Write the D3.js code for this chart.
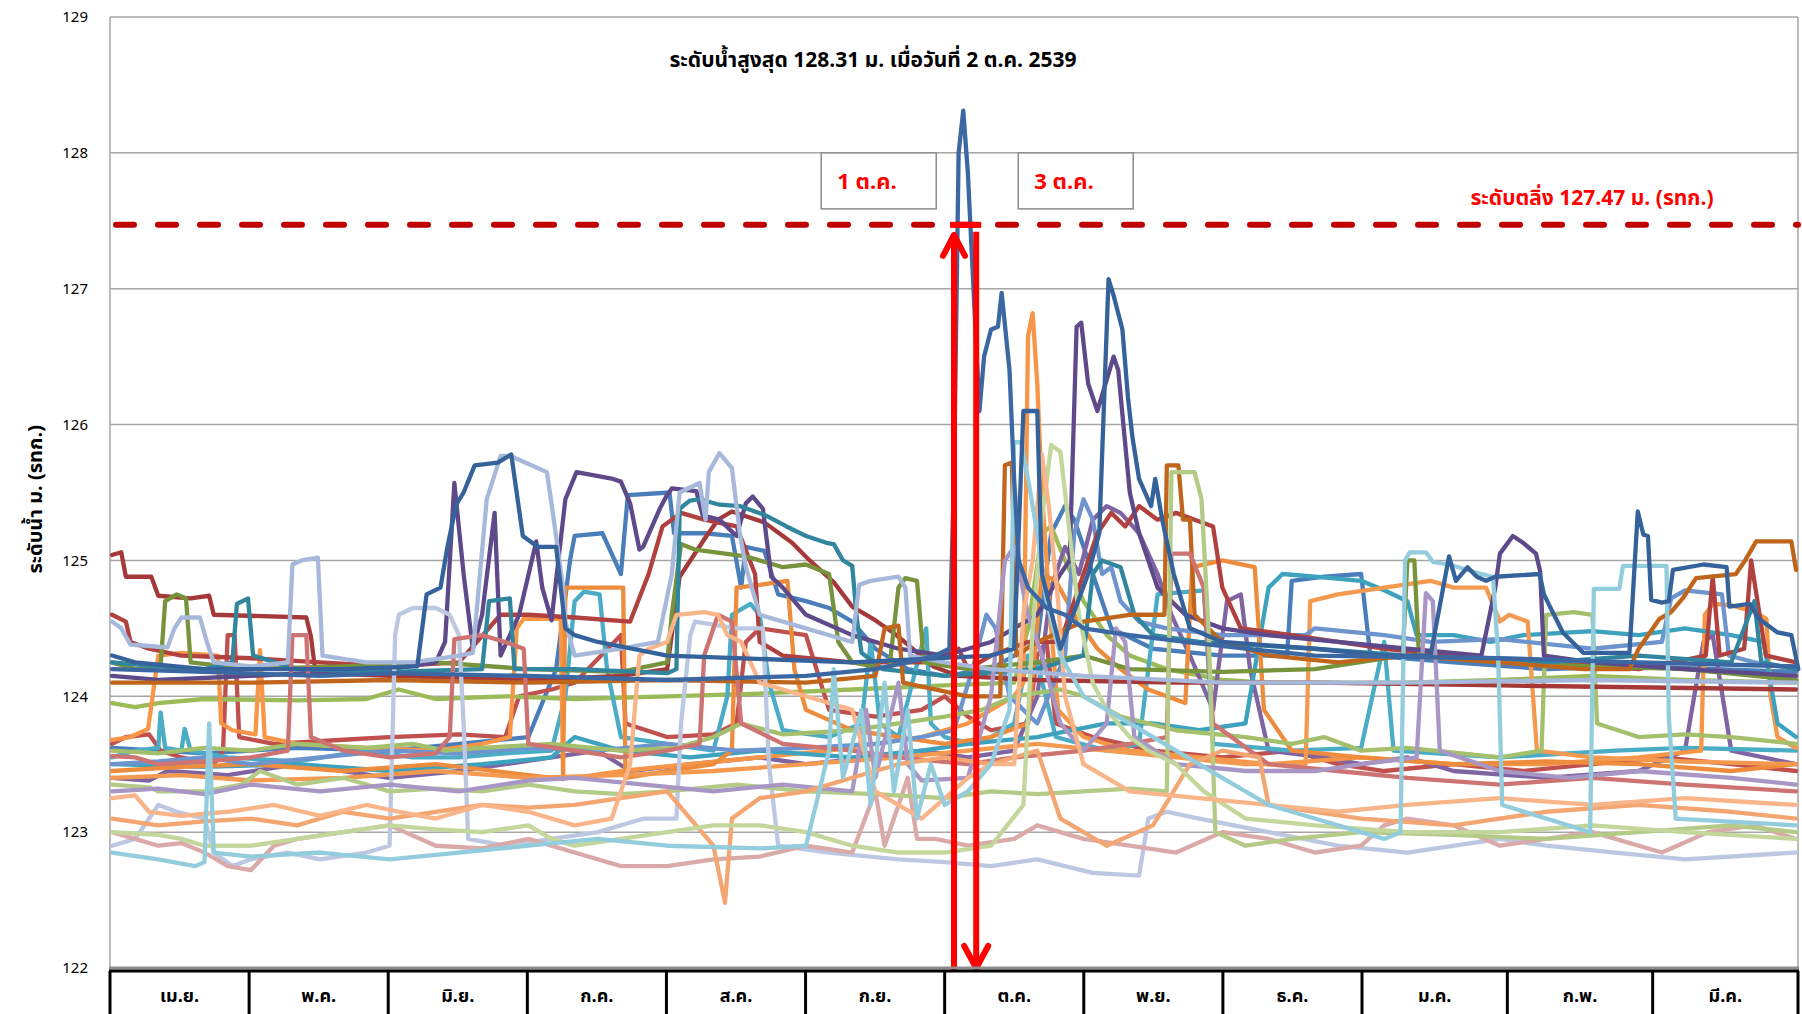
<!DOCTYPE html>
<html>
<head>
<meta charset="utf-8">
<script src="https://cdn.jsdelivr.net/npm/d3@7"></script>
<style>
  body { margin: 0; background: #fff; }
  svg { display: block; }
  text { font-family: Tahoma, "Noto Sans Thai", Loma, Garuda, "DejaVu Sans", sans-serif; }
</style>
</head>
<body>
<svg id="chart" width="1802" height="1014"></svg>
<script>
/* y axis ticks and month cells */
const yTicks = [122, 123, 124, 125, 126, 127, 128, 129];
const months = ['เม.ย.', 'พ.ค.', 'มิ.ย.', 'ก.ค.', 'ส.ค.', 'ก.ย.', 'ต.ค.', 'พ.ย.', 'ธ.ค.', 'ม.ค.', 'ก.พ.', 'มี.ค.'];
const bankLevel = 127.47;
const peakDay = 184; // 2 ต.ค.
const arrowUpDay = 182;
const arrowDownDay = 186.8;

/* one array per year: [day since 1 เม.ย., level m. (รทก.)] */
const yr2539 = [[0,124.2],[20,124.18],[45,124.15],[60,124.17],[90,124.15],[120,124.12],[150,124.15],[165,124.2],[172,124.25],[178,124.3],[181,124.35],[182,125.6],[183,128.0],[184,128.31],[185,127.85],[187.5,126.1],[188.5,126.5],[190,126.7],[191.5,126.72],[192.3,126.97],[194,126.4],[195,125.6],[196,125.0],[198,124.8],[202,124.65],[206,124.6],[210,124.5],[220,124.45],[232,124.4],[245,124.35],[260,124.3],[300,124.28],[330,124.25],[364,124.22]];
const darkBlue2 = [[0,124.3],[5,124.25],[20,124.2],[50,124.2],[66,124.22],[68,124.75],[71,124.8],[72.5,125.1],[74.4,125.41],[76,125.5],[78.4,125.7],[83.4,125.72],[86.3,125.78],[88.8,125.18],[92,125.1],[96,125.1],[98,124.5],[100,124.45],[105,124.4],[120,124.3],[160,124.25],[190,124.3],[195,124.35],[197,126.1],[200,126.1],[201,124.9],[205,124.35],[211,124.9],[213.4,125.2],[215.4,127.07],[216.5,126.95],[218.4,126.7],[219.6,126.2],[220.6,125.9],[222,125.6],[224.6,125.4],[225.5,125.6],[227,125.3],[229.5,124.9],[233,124.5],[240,124.4],[260,124.35],[275,124.3],[285,124.3],[289,125.03],[290.5,124.85],[293,124.95],[295,124.88],[297,124.85],[299,124.88],[308.6,124.9],[309.5,124.75],[313.6,124.47],[318,124.32],[328,124.32],[329.8,125.36],[331,125.19],[332,125.18],[332.7,124.71],[335,124.69],[336.5,124.7],[337.4,124.93],[344,124.97],[349,124.95],[349.6,124.66],[354,124.68],[356,124.57],[360,124.47],[363,124.45],[364.5,124.2]];
const darkRed1 = [[0,125.04],[2,125.06],[3,124.88],[8.5,124.88],[10,124.74],[17,124.72],[21,124.74],[22,124.6],[42,124.58],[43,124.44],[44,124.17],[60,124.15],[90,124.12],[110,124.15],[120,124.2],[122.7,124.88],[128.5,125.18],[131,125.3],[134,125.36],[141,125.28],[147,125.13],[150.8,125.0],[156,124.84],[160,124.66],[164.5,124.57],[168.8,124.47],[172.4,124.37],[177.5,124.22],[183,124.15],[200,124.12],[230,124.1],[260,124.1],[300,124.08],[364,124.05]];
const darkRed2 = [[0,124.6],[3,124.55],[4,124.4],[8,124.35],[15,124.3],[30,124.28],[45,124.25],[60,124.22],[75,124.25],[84,124.6],[90,124.6],[100,124.58],[112,124.55],[116,124.9],[119,125.25],[123,125.35],[128,125.3],[135,125.25],[139,124.9],[140,124.4],[145,124.3],[160,124.25],[175,124.25],[180,124.3],[183,124.35],[185,124.2],[190,124.3],[198,124.4],[205,124.4],[213,125.2],[216,125.35],[219,125.25],[222,125.4],[226,125.3],[230,125.35],[234,125.3],[238,125.25],[240,124.8],[244,124.5],[255,124.45],[265,124.4],[275,124.35],[290,124.3],[310,124.25],[330,124.2],[344.5,124.3],[346,124.88],[347.5,124.3],[352.8,124.35],[354.3,125.0],[357.5,124.3],[364,124.25]];
const darkGreen = [[0,124.25],[5,124.2],[10.5,124.22],[11.5,124.7],[14,124.75],[16,124.72],[17,124.25],[30,124.2],[50,124.22],[70,124.25],[90,124.2],[110,124.18],[120,124.25],[121,124.6],[123,125.12],[126,125.08],[137,125.03],[145,124.95],[150,124.97],[155,124.9],[157,124.4],[160,124.25],[168,124.2],[170,124.8],[171.5,124.87],[174,124.85],[175.5,124.25],[185,124.2],[200,124.25],[210,124.3],[220,124.2],[240,124.18],[260,124.2],[279,124.3],[280,125.0],[281.5,125.0],[282.5,124.3],[300,124.25],[320,124.22],[340,124.2],[364,124.12]];
const darkPurple = [[0,124.15],[10,124.12],[30,124.15],[60,124.2],[70,124.25],[72,124.4],[74,125.57],[76,124.9],[78,124.35],[80,124.6],[82.7,125.35],[84,124.3],[88,124.6],[91.7,125.14],[93,124.8],[95,124.56],[98,125.45],[100.4,125.65],[108.3,125.6],[110,125.58],[112,125.42],[114,125.08],[114.8,125.1],[118.4,125.38],[119.8,125.47],[121,125.53],[126.3,125.51],[127.7,125.33],[131.3,125.3],[135,125.18],[137,125.42],[138.5,125.47],[140.7,125.38],[142.5,124.88],[145,124.8],[150,124.6],[160,124.45],[170,124.35],[180,124.3],[190,124.4],[200,124.6],[205,124.9],[207,125.0],[208.5,126.72],[209.5,126.75],[211,126.3],[213,126.1],[216.5,126.5],[217.5,126.4],[220,125.5],[222,125.2],[226,124.8],[232,124.6],[240,124.5],[250,124.45],[265,124.4],[280,124.35],[296,124.3],[299,124.8],[300,125.05],[302.8,125.18],[305,125.13],[307.8,125.05],[308.7,124.92],[309.5,124.3],[320,124.25],[340,124.2],[364,124.15]];
const darkTeal = [[0,124.25],[10,124.22],[20,124.2],[26,124.25],[27,124.68],[29.4,124.72],[30.5,124.3],[40,124.2],[60,124.18],[80,124.2],[81.5,124.7],[86,124.72],[87,124.2],[100,124.2],[120,124.17],[122,124.2],[122.7,125.38],[124.9,125.44],[127,125.45],[131.3,125.41],[135.7,125.4],[141.4,125.33],[145.8,125.25],[150,125.18],[154.4,125.13],[156,125.12],[158,125.0],[160,124.96],[161,124.57],[162,124.32],[166.6,124.2],[180,124.15],[200,124.2],[210,124.3],[212,124.9],[214,125.0],[218,124.95],[221,124.6],[225,124.45],[235,124.4],[260,124.35],[280,124.3],[310,124.25],[330,124.3],[350,124.25],[355,124.7],[356.5,124.25],[364,124.2]];
const darkOrange = [[0,124.1],[30,124.1],[60,124.12],[90,124.1],[120,124.12],[150,124.1],[165,124.15],[167,124.5],[170,124.52],[171,124.1],[185,124.0],[192,124.0],[193,125.7],[194.5,125.72],[195.5,124.3],[200,124.4],[210,124.55],[220,124.6],[227.5,124.6],[228,125.7],[230.5,125.7],[231.5,125.3],[233,125.3],[234,124.6],[240,124.4],[250,124.3],[265,124.25],[280,124.3],[300,124.25],[318,124.2],[328,124.2],[330,124.35],[334.5,124.57],[337,124.62],[339.5,124.72],[342.4,124.87],[351,124.9],[353,125.0],[355.4,125.14],[363,125.14],[364,124.93]];
const blue = [[0,123.62],[10,123.6],[20,123.58],[40,123.62],[60,123.6],[75,123.65],[90,123.7],[96,124.2],[99,125.0],[100,125.18],[106,125.2],[108,125.05],[110,124.9],[111.5,125.48],[120.5,125.5],[121.5,125.2],[128,125.2],[134,125.18],[136,124.8],[137,125.1],[141,125.07],[144,124.75],[150,124.7],[155,124.65],[160,124.55],[165,124.35],[172,124.2],[180,124.15],[190,124.2],[200,124.4],[203,125.2],[206,125.4],[208,125.3],[212,124.9],[216,124.5],[225,124.35],[240,124.3],[254,124.3],[255,124.85],[262,124.88],[270,124.9],[272,124.3],[290,124.25],[310,124.2],[330,124.22],[364,124.18]];
const red = [[0,123.65],[3,123.7],[8,123.72],[10.5,123.6],[15,123.55],[22,123.5],[24,123.6],[25,124.45],[26.5,124.45],[27.5,123.7],[35,123.65],[50,123.68],[60,123.7],[75,123.72],[85,123.7],[88,124.0],[95,124.05],[100,124.1],[110,124.45],[111,123.8],[120,123.7],[130,123.72],[135,123.8],[137,124.4],[140,124.5],[150,124.45],[155,123.9],[165,123.85],[175,123.9],[180,124.0],[185,123.85],[190,123.75],[198,123.8],[200,124.3],[202,124.4],[204,123.8],[212,123.7],[225,123.6],[240,123.55],[255,123.6],[265,123.5],[275,123.45],[290,123.5],[305,123.45],[320,123.5],[335,123.55],[350,123.5],[364,123.45]];
const green = [[0,123.95],[5,123.92],[10,123.95],[20,123.98],[40,123.97],[55,123.98],[62,124.05],[70,123.98],[85,124.0],[100,123.98],[120,124.0],[140,124.02],[160,124.05],[180,124.08],[195,124.1],[198,124.5],[201,125.2],[203,125.25],[206,125.0],[210,124.7],[215,124.45],[220,124.3],[228,124.2],[240,124.12],[250,124.1],[280,124.1],[300,124.12],[320,124.15],[340,124.12],[364,124.1]];
const purple = [[0,123.4],[8,123.38],[12,123.45],[25,123.42],[40,123.5],[50,123.45],[60,123.4],[75,123.45],[85,123.5],[95,123.55],[105,123.6],[112,123.45],[125,123.5],[140,123.55],[150,123.5],[165,123.55],[175,123.6],[185,123.55],[195,123.6],[200,124.0],[203,124.8],[206,125.1],[209,124.9],[212,125.3],[215,125.4],[218,125.35],[222,125.2],[226,124.9],[229,124.6],[233,124.3],[238,123.9],[241,124.7],[244,124.75],[246,124.2],[250,123.6],[262,123.55],[270,123.5],[280,123.55],[290,123.45],[310,123.4],[330,123.45],[340,123.6],[344,124.4],[346,124.45],[350,123.6],[364,123.5]];
const aqua = [[0,123.55],[5,123.6],[10,123.62],[10.5,123.88],[11.5,123.62],[15,123.6],[15.7,123.76],[17,123.6],[25,123.55],[40,123.52],[55,123.6],[65,123.55],[75,123.55],[85,123.58],[95,123.6],[98,124.0],[100,124.7],[102,124.77],[105.4,124.75],[107,124.2],[110,123.7],[120,123.65],[130,123.6],[133,124.0],[134,124.6],[138,124.68],[140,124.6],[142,124.1],[145,123.75],[155,123.7],[162,123.8],[164,124.4],[166,123.8],[170,123.7],[176,124.5],[177,123.8],[180,123.7],[186,123.65],[190,123.7],[195,123.8],[198,124.3],[200,124.25],[204,123.7],[215,123.6],[222,123.65],[226,124.75],[236,124.78],[238,123.65],[255,123.6],[270,123.62],[275,124.4],[277,123.6],[300,123.55],[325,123.6],[340,123.62],[364,123.6]];
const aqua2 = [[0,123.5],[20,123.48],[40,123.5],[60,123.45],[80,123.5],[95,123.55],[100,123.7],[110,123.6],[125,123.55],[140,123.6],[160,123.55],[175,123.6],[185,123.65],[200,123.7],[215,123.8],[225,123.8],[235,123.75],[245,123.8],[250,124.8],[253,124.9],[260,124.88],[270,124.85],[275,124.78],[280,124.7],[282,124.45],[290,124.45],[298,124.4],[305,124.45],[320,124.48],[330,124.45],[340,124.5],[350,124.45],[357,124.4],[360,123.8],[364,123.7]];
const orange = [[0,123.68],[4,123.7],[7.8,123.76],[10,124.3],[15,124.32],[22.9,124.3],[23.6,123.8],[26,123.75],[31,123.72],[32,124.34],[33,123.7],[40,123.65],[55,123.62],[70,123.6],[80,123.65],[86,123.7],[87.5,124.5],[89,124.57],[97,124.57],[97.5,123.4],[100,123.4],[110,123.45],[125,123.5],[140,123.55],[155,123.6],[165,123.65],[175,123.7],[185,123.8],[195,124.0],[197,124.1],[198,126.65],[199,126.82],[200,126.3],[201,125.5],[203,124.5],[204.5,123.9],[210,123.7],[220,123.6],[235,123.55],[250,123.5],[270,123.55],[290,123.5],[310,123.5],[330,123.55],[343.5,123.6],[344.3,124.6],[346,124.68],[350,124.67],[355,124.62],[357.6,124.57],[358.5,124.0],[360,123.7],[364,123.62]];
const orange2 = [[0,123.45],[15,123.48],[30,123.5],[50,123.45],[70,123.5],[90,123.42],[97.5,123.39],[98,124.8],[110.5,124.8],[111,123.4],[120,123.45],[130,123.5],[134,123.6],[135,124.8],[140,124.82],[146,124.85],[147.5,124.2],[150,123.9],[160,123.75],[170,123.7],[180,123.65],[190,123.7],[198,123.8],[201,124.9],[204,124.85],[208,124.6],[213,124.35],[218,124.2],[224,124.05],[232,123.95],[233.5,124.95],[240,125.0],[247,124.95],[249,123.9],[255,123.6],[270,123.55],[290,123.5],[310,123.52],[330,123.5],[350,123.45],[364,123.5]];
const orange3 = [[0,123.4],[15,123.42],[30,123.38],[50,123.4],[70,123.45],[90,123.4],[110,123.42],[130,123.45],[150,123.5],[170,123.55],[185,123.6],[200,123.65],[215,123.6],[230,123.55],[245,123.5],[258,123.5],[259,124.7],[265,124.75],[275,124.8],[285,124.85],[290,124.8],[297,124.8],[300,124.55],[302,124.6],[306,124.55],[308,123.6],[320,123.55],[340,123.52],[364,123.5]];
const steel = [[0,123.5],[10,123.52],[20,123.55],[30,123.5],[45,123.55],[60,123.6],[75,123.58],[90,123.62],[105,123.6],[120,123.65],[135,123.6],[150,123.62],[165,123.65],[175,123.7],[182,123.75],[186,124.2],[189,124.6],[191,124.5],[194,124.0],[200,123.8],[206,124.3],[208,125.2],[210,125.45],[212,125.3],[214,124.9],[216,124.95],[218,124.7],[222,124.55],[228,124.5],[240,124.45],[258,124.45],[260,124.5],[275,124.45],[285,124.4],[300,124.42],[320,124.35],[335,124.4],[337,124.72],[340,124.78],[348,124.75],[349.5,124.3],[355,124.25],[364,124.2]];
const greenMid = [[0,123.6],[10,123.58],[20,123.62],[30,123.6],[40,123.65],[55,123.62],[65,123.65],[72,123.6],[80,123.62],[95,123.65],[110,123.6],[122,123.62],[130,123.7],[136,123.8],[145,123.72],[160,123.75],[170,123.8],[180,123.85],[188,123.9],[195,124.0],[205,124.05],[210,124.0],[218,123.85],[230,123.75],[245,123.7],[255,123.65],[262,123.7],[270,123.6],[280,123.62],[300,123.55],[309,123.6],[310,124.6],[316,124.62],[320,124.6],[321,123.8],[330,123.7],[340,123.72],[350,123.7],[364,123.65]];
const lightSteel = [[0,124.55],[2,124.5],[4,124.38],[8,124.37],[12,124.36],[13.5,124.5],[15,124.58],[19,124.58],[20.5,124.4],[22,124.25],[30,124.22],[38,124.25],[39,124.97],[41,125.0],[44.5,125.02],[45.5,124.3],[55,124.25],[65,124.25],[75,124.3],[78,124.32],[81,125.45],[84,125.77],[86,125.77],[92,125.68],[94,125.65],[95,125.42],[97.5,124.8],[98,124.55],[100,124.3],[110,124.35],[118,124.4],[121,124.9],[122.7,125.5],[127,125.57],[128.3,125.3],[129,125.65],[131.3,125.79],[134,125.68],[135.7,125.2],[137,124.95],[140,124.6],[150,124.5],[160,124.4],[161.5,124.82],[164,124.85],[170,124.88],[171.5,124.8],[172.5,124.3],[180,124.25],[190,124.2],[210,124.15],[240,124.1],[280,124.1],[320,124.12],[364,124.1]];
const lightSteel2 = [[0,122.9],[5,122.95],[10,123.2],[14,123.15],[20,123.1],[22,122.85],[26,122.75],[30,122.8],[38,122.85],[45,122.8],[55,122.85],[60,122.9],[61.2,124.45],[62,124.6],[65,124.65],[70,124.65],[73,124.6],[75,124.45],[76,123.8],[77,122.95],[85,122.9],[95,122.95],[105,123.0],[115,123.1],[122,123.1],[123,123.8],[125,124.45],[126,124.55],[135,124.5],[140.7,124.5],[142,123.5],[144,122.9],[155,122.85],[170,122.8],[180,122.78],[190,122.75],[200,122.8],[212,122.7],[222,122.68],[224,123.1],[228,123.15],[235,123.1],[250,123.0],[265,122.9],[280,122.85],[300,122.95],[310,122.9],[325,122.85],[340,122.8],[364,122.85]];
const pink = [[0,123.0],[5,122.95],[10,122.9],[15,122.92],[20,122.85],[25,122.75],[30,122.72],[35,122.9],[40,122.95],[50,123.0],[60,123.05],[70,122.9],[80,122.88],[90,122.95],[100,122.85],[110,122.75],[120,122.75],[130,122.8],[140,122.82],[150,122.9],[160,122.85],[165,123.3],[167,122.9],[172,123.4],[174,122.95],[178,122.95],[185,122.9],[195,122.95],[200,123.05],[210,122.95],[220,122.9],[230,122.85],[240,123.0],[250,122.95],[260,122.85],[270,122.9],[275,123.05],[280,123.1],[290,123.05],[300,122.9],[310,122.95],[320,123.0],[335,122.85],[345,123.0],[355,123.05],[364,122.95]];
const roseRed = [[0,123.56],[5,123.55],[10,123.5],[20,123.52],[30,123.55],[38,123.6],[39,124.45],[42,124.45],[43,123.7],[50,123.6],[60,123.55],[70,123.58],[73,123.7],[74,124.42],[80,124.45],[85,124.4],[89,124.35],[90,123.65],[100,123.6],[110,123.55],[120,123.6],[127,123.65],[128,124.3],[131,124.6],[134,124.55],[136,123.8],[145,123.65],[160,123.6],[170,123.55],[185,123.5],[195,123.55],[210,123.6],[220,123.65],[228,123.7],[229,125.05],[233,125.05],[236,124.8],[238,123.8],[250,123.5],[265,123.45],[280,123.4],[300,123.35],[320,123.4],[340,123.35],[364,123.3]];
const lightGreen = [[0,123.0],[10,122.98],[15,122.95],[20,122.9],[30,122.9],[40,122.95],[50,123.0],[60,123.05],[70,123.02],[80,123.0],[90,123.05],[95,122.95],[100,122.9],[110,122.95],[120,123.0],[130,123.05],[140,123.05],[150,123.0],[160,122.9],[170,122.85],[180,122.85],[190,122.9],[197,123.2],[199,124.5],[201,125.3],[203,125.85],[205,125.8],[207,125.2],[209,124.6],[212,124.1],[215,123.9],[220,123.7],[224,123.6],[230,123.5],[236,123.3],[245,123.1],[260,123.05],[280,123.0],[300,123.0],[320,123.05],[340,123.0],[364,122.95]];
const lightGreen2 = [[0,123.35],[8,123.33],[10,123.3],[20,123.3],[28,123.35],[32,123.45],[40,123.35],[50,123.4],[60,123.3],[70,123.32],[80,123.3],[90,123.35],[100,123.3],[110,123.28],[120,123.3],[135,123.35],[150,123.3],[165,123.28],[180,123.25],[190,123.3],[200,123.28],[210,123.3],[220,123.32],[228,123.3],[229,125.65],[234,125.65],[235.5,125.45],[237,124.5],[238.5,123.0],[245,122.9],[255,122.95],[270,123.0],[290,122.98],[310,122.95],[330,123.0],[350,123.05],[364,123.0]];
const lavender = [[0,123.3],[10,123.32],[20,123.28],[30,123.35],[45,123.3],[60,123.35],[75,123.3],[90,123.38],[100,123.4],[115,123.35],[130,123.3],[145,123.35],[160,123.3],[163,123.9],[165,123.4],[170,124.1],[172,123.5],[175,123.38],[185,123.4],[190,124.0],[193,125.0],[195,125.1],[198,124.6],[201,124.3],[205,123.8],[210,123.6],[215,123.8],[217,124.5],[219,124.4],[221,123.7],[230,123.5],[245,123.45],[260,123.45],[270,123.5],[282,123.55],[284,124.76],[285.5,124.7],[287,123.6],[300,123.45],[315,123.4],[330,123.45],[350,123.4],[364,123.35]];
const lightAqua = [[0,122.85],[10,122.8],[18,122.75],[20,122.78],[21,123.8],[22,122.85],[30,122.82],[45,122.85],[60,122.8],[75,122.85],[90,122.9],[105,122.95],[120,122.9],[140,122.88],[150,122.9],[155,123.6],[156,124.2],[158,123.4],[162,123.9],[164,123.2],[167,124.1],[169,123.3],[172,123.9],[174,123.1],[177,123.5],[180,123.2],[185,123.3],[190,123.5],[194,123.9],[195,125.87],[196.5,125.87],[198,125.6],[200,125.2],[202,124.7],[205,124.3],[210,124.0],[220,123.8],[230,123.6],[240,123.4],[250,123.2],[260,123.1],[270,123.0],[275,122.95],[278.5,123.0],[279.5,125.0],[280.5,125.06],[284,125.06],[285.5,124.99],[289,124.97],[296,124.9],[298.5,124.88],[299.6,124.32],[300.5,123.2],[310,123.1],[319.5,123.0],[320.3,124.79],[325.8,124.79],[326.6,124.96],[336,124.96],[336.5,123.85],[338,123.1],[364,123.05]];
const peach = [[0,123.25],[5,123.27],[8,123.15],[15,123.12],[25,123.15],[35,123.2],[45,123.12],[55,123.2],[62,123.15],[70,123.1],[80,123.2],[90,123.15],[100,123.05],[108,123.1],[112,123.5],[114,124.3],[116,124.35],[120,124.4],[122,124.6],[128,124.62],[131,124.6],[133,124.45],[136,124.4],[140,124.1],[150,124.0],[160,123.9],[165,123.3],[175,123.1],[185,123.4],[190,123.5],[195,123.5],[197,124.6],[199,125.0],[201,125.78],[202.5,125.4],[204.5,124.7],[206,124.0],[210,123.5],[220,123.3],[235,123.25],[250,123.2],[265,123.15],[280,123.2],[300,123.25],[320,123.2],[340,123.25],[364,123.2]];
const peach2 = [[0,123.1],[10,123.05],[20,123.08],[30,123.1],[40,123.05],[50,123.15],[60,123.1],[70,123.15],[80,123.2],[90,123.18],[100,123.2],[110,123.25],[120,123.3],[125,123.1],[130,122.9],[132.5,122.48],[134,123.1],[140,123.25],[150,123.3],[160,123.4],[170,123.5],[180,123.55],[190,123.5],[200,123.6],[205,123.1],[210,123.0],[215,122.9],[225,123.05],[233,123.5],[240,123.6],[248,123.55],[250,123.2],[260,123.15],[270,123.1],[290,123.05],[310,123.15],[330,123.2],[350,123.15],[364,123.1]];

const lines = [
  { values: blue, color: '#4A7EBB' },
  { values: red, color: '#C0504D' },
  { values: green, color: '#9BBB59' },
  { values: purple, color: '#8064A2' },
  { values: aqua, color: '#4BACC6' },
  { values: orange, color: '#F79646' },
  { values: aqua2, color: '#3DA2BE' },
  { values: orange2, color: '#EC8C3C' },
  { values: orange3, color: '#F39A50' },
  { values: steel, color: '#6E94CE' },
  { values: greenMid, color: '#A4C06C' },
  { values: darkRed1, color: '#A5393A' },
  { values: darkRed2, color: '#B0413E' },
  { values: darkGreen, color: '#77933C' },
  { values: darkPurple, color: '#5E4A8A' },
  { values: darkTeal, color: '#31869E' },
  { values: darkOrange, color: '#C0661C' },
  { values: lightSteel2, color: '#BCC8E2' },
  { values: pink, color: '#D9AAA8' },
  { values: roseRed, color: '#CD7371' },
  { values: lightGreen2, color: '#B4CB88' },
  { values: lavender, color: '#A897C4' },
  { values: peach2, color: '#F4A672' },
  { values: lightGreen, color: '#C3D69B' },
  { values: peach, color: '#F9B58A' },
  { values: lightAqua, color: '#93CDDD' },
  { values: lightSteel, color: '#A7B9DA' },
  { values: darkBlue2, color: '#36629C' },
  { values: yr2539, color: '#3B68A2' },
];

/* layout */
const width = 1802;
const height = 1014;
const margin = { top: 17, right: 4, bottom: 46, left: 110 };
const plotW = width - margin.left - margin.right;
const plotH = height - margin.top - margin.bottom;

const svg = d3.select('#chart');
svg.append('rect').attr('width', width).attr('height', height).attr('fill', '#fff');

const x = d3.scaleLinear().domain([0, 364]).range([margin.left + 2, margin.left + plotW - 2]);
const y = d3.scaleLinear().domain([122, 129]).range([margin.top + plotH, margin.top]);

/* grid */
const grid = svg.append('g');
grid.selectAll('line').data(yTicks.filter((t) => t > 122)).join('line')
  .attr('x1', margin.left).attr('x2', margin.left + plotW)
  .attr('y1', (d) => y(d)).attr('y2', (d) => y(d))
  .attr('stroke', '#a6a6a6').attr('stroke-width', 1.5);
grid.append('line')
  .attr('x1', margin.left).attr('x2', margin.left)
  .attr('y1', margin.top).attr('y2', margin.top + plotH)
  .attr('stroke', '#a6a6a6').attr('stroke-width', 1.5);
grid.append('line')
  .attr('x1', margin.left + plotW).attr('x2', margin.left + plotW)
  .attr('y1', margin.top).attr('y2', margin.top + plotH)
  .attr('stroke', '#a6a6a6').attr('stroke-width', 1.5);

/* y axis labels */
const yAxis = d3.axisLeft(y).tickValues(yTicks).tickSize(0).tickPadding(22).tickFormat(d3.format('d'));
const gy = svg.append('g').attr('transform', `translate(${margin.left},0)`).call(yAxis);
gy.select('.domain').remove();
gy.selectAll('text').attr('font-size', 15).attr('fill', '#000')
  .attr('font-family', 'Tahoma, Verdana, "DejaVu Sans", sans-serif');

svg.append('text')
  .attr('transform', `translate(42,${y(125.45)}) rotate(-90)`)
  .attr('text-anchor', 'middle')
  .attr('font-size', 20).attr('font-weight', 'bold')
  .text('ระดับน้ำ ม. (รทก.)');

/* water level lines */
const line = d3.line().x((d) => x(d[0])).y((d) => y(d[1]));
svg.append('g').attr('fill', 'none').attr('stroke-width', 4.3)
  .attr('stroke-linejoin', 'round').attr('stroke-linecap', 'round')
  .selectAll('path').data(lines).join('path')
  .attr('stroke', (d) => d.color)
  .attr('d', (d) => line(d.values));

/* bank level */
svg.append('line')
  .attr('x1', margin.left + 6).attr('x2', margin.left + plotW)
  .attr('y1', y(bankLevel)).attr('y2', y(bankLevel))
  .attr('stroke', '#C00000').attr('stroke-width', 6)
  .attr('stroke-dasharray', '18,24').attr('stroke-linecap', 'round');
svg.append('text')
  .attr('x', 1592).attr('y', y(bankLevel) - 20)
  .attr('text-anchor', 'middle').attr('fill', '#FF0000')
  .attr('font-size', 21).attr('font-weight', 'bold')
  .text(`ระดับตลิ่ง ${bankLevel} ม. (รทก.)`);

/* title */
svg.append('text')
  .attr('x', 873).attr('y', 67)
  .attr('text-anchor', 'middle').attr('fill', '#000')
  .attr('font-size', 21).attr('font-weight', 'bold')
  .text(`ระดับน้ำสูงสุด ${d3.max(yr2539, (d) => d[1])} ม. เมื่อวันที่ 2 ต.ค. 2539`);

/* date boxes */
const boxes = [
  { label: '1 ต.ค.', cx: x(peakDay) - 85 },
  { label: '3 ต.ค.', cx: x(peakDay) + 112 },
];
const boxG = svg.append('g');
boxG.selectAll('rect').data(boxes).join('rect')
  .attr('x', (d) => d.cx - 57).attr('y', y(128))
  .attr('width', 115).attr('height', 56)
  .attr('fill', '#fff').attr('stroke', '#8c8c8c').attr('stroke-width', 1.5);
boxG.selectAll('text').data(boxes).join('text')
  .attr('x', (d) => d.cx - 41).attr('y', y(128) + 36)
  .attr('fill', '#FF0000').attr('font-size', 22).attr('font-weight', 'bold')
  .text((d) => d.label);

/* arrows */
const arrowG = svg.append('g').attr('stroke', '#FF0000').attr('stroke-width', 6)
  .attr('fill', 'none').attr('stroke-linecap', 'round').attr('stroke-linejoin', 'round');
const ax1 = x(arrowUpDay);
const ax2 = x(arrowDownDay);
const topY = y(bankLevel) + 3;
const botY = y(122) + 2;
arrowG.append('line').attr('x1', ax1).attr('x2', ax1).attr('y1', botY).attr('y2', topY + 6).attr('stroke-linecap', 'butt');
arrowG.append('path').attr('d', `M${ax1 - 11},${topY + 28}L${ax1},${topY + 7}L${ax1 + 11},${topY + 28}`);
arrowG.append('line').attr('x1', ax1 - 4).attr('x2', ax2 + 5).attr('y1', topY - 3).attr('y2', topY - 3).attr('stroke-linecap', 'butt');
arrowG.append('line').attr('x1', ax2).attr('x2', ax2).attr('y1', topY + 4).attr('y2', botY - 2).attr('stroke-linecap', 'butt');
arrowG.append('path').attr('d', `M${ax2 - 12},${botY - 24}L${ax2},${botY - 2}L${ax2 + 12},${botY - 24}`);

/* month table */
const cell = d3.scaleLinear().domain([0, 9, 12]).range([margin.left, 1362, margin.left + plotW]);
const tableTop = y(122) + 3;
const table = svg.append('g');
table.append('line')
  .attr('x1', margin.left - 1).attr('x2', margin.left + plotW + 1)
  .attr('y1', y(122)).attr('y2', y(122))
  .attr('stroke', '#8c8c8c').attr('stroke-width', 3);
table.append('line')
  .attr('x1', margin.left - 1).attr('x2', margin.left + plotW + 1)
  .attr('y1', tableTop).attr('y2', tableTop)
  .attr('stroke', '#000').attr('stroke-width', 3);
table.selectAll('line.sep').data(d3.range(13)).join('line').attr('class', 'sep')
  .attr('x1', (d) => cell(d)).attr('x2', (d) => cell(d))
  .attr('y1', tableTop).attr('y2', height)
  .attr('stroke', '#000').attr('stroke-width', 3);
table.selectAll('text').data(months).join('text')
  .attr('x', (d, i) => (cell(i) + cell(i + 1)) / 2)
  .attr('y', tableTop + 31)
  .attr('text-anchor', 'middle').attr('font-size', 18).attr('font-weight', 'bold')
  .text((d) => d);
</script>
</body>
</html>
